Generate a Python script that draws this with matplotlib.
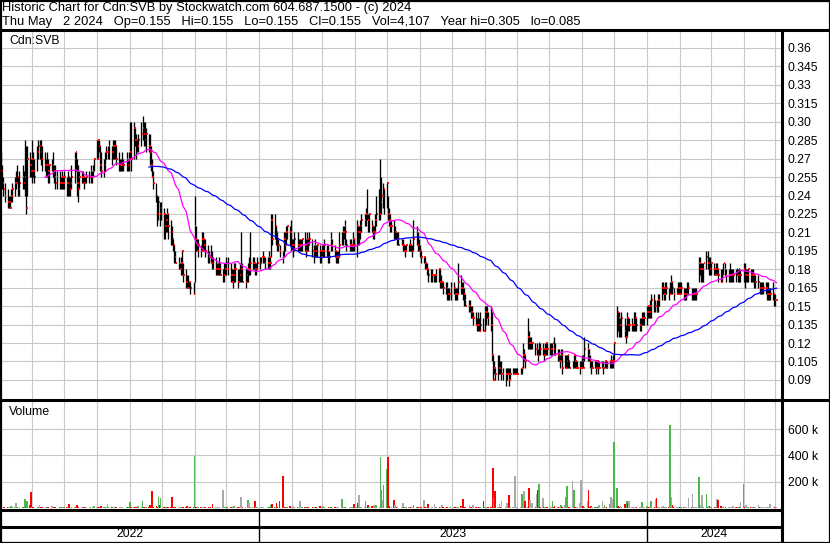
import numpy as np
import pandas as pd
import matplotlib
matplotlib.use("Agg")
import matplotlib.pyplot as plt
import matplotlib.dates as mdates

plt.rcParams['font.family'] = ['Liberation Sans', 'DejaVu Sans']

# Header texts
title_line = "Historic Chart for Cdn:SVB by Stockwatch.com 604.687.1500 - (c) 2024"
quote_line = "Thu May   2 2024   Op=0.155   Hi=0.155   Lo=0.155   Cl=0.155   Vol=4,107   Year hi=0.305   lo=0.085"
symbol = "Cdn:SVB"
first_day = "2022-05-03"

# Daily bars, prices in thousandths of a dollar, one line per month
highs = [
    275, 265, 255, 250, 245, 240, 240, 245, 250, 255, 260, 265, 255, 260, 265, 260, 285, 280, 280, 275, 270,
    285, 275, 270, 280, 285, 285, 285, 280, 275, 270, 275, 270, 265, 270, 275, 265, 265, 260, 260, 255, 260, 255,
    260, 255, 260, 255, 255, 265, 275, 275, 270, 265, 260, 260, 260, 255, 255, 260, 260, 265, 260, 265, 270,
    285, 285, 285, 280, 275, 270, 275, 280, 280, 285, 280, 285, 285, 285, 280, 275, 270, 270, 275, 270, 275, 270, 275,
    300, 300, 300, 295, 290, 285, 290, 300, 305, 300, 300, 295, 290, 290, 280, 270, 260, 250, 240, 240, 235, 235,
    230, 225, 225, 230, 225, 220, 215, 205, 200, 195, 190, 185, 190, 195, 185, 180, 175, 175, 170, 170, 170,
    240, 215, 205, 205, 200, 210, 210, 205, 205, 200, 195, 200, 195, 190, 190, 185, 185, 190, 185, 180, 185, 185,
    190, 190, 185, 180, 180, 185, 185, 180, 180, 185, 210, 185, 180, 180, 185, 190, 210, 190, 190, 185, 185, 190,
    190, 190, 195, 190, 190, 190, 195, 190, 225, 225, 225, 215, 210, 205, 200, 195, 210, 210, 215, 215, 215, 220,
    205, 205, 210, 210, 205, 205, 205, 205, 210, 205, 210, 205, 210, 205, 200, 205, 200, 200, 200, 195,
    200, 200, 205, 200, 200, 195, 210, 205, 200, 195, 195, 195, 210, 210, 215, 215, 220, 205, 205, 205, 200, 210, 205,
    220, 215, 215, 220, 225, 225, 230, 245, 225, 225, 220, 215, 215, 225, 240, 245, 270, 255, 250, 245,
    250, 240, 230, 225, 220, 220, 215, 210, 210, 210, 205, 205, 200, 200, 200, 200, 205, 200, 200, 220, 215, 210, 205,
    200, 195, 190, 190, 185, 185, 180, 180, 180, 175, 175, 180, 180, 180, 175, 170, 170, 170, 170, 165, 165, 170,
    170, 165, 165, 165, 185, 175, 170, 170, 165, 160, 155, 155, 150, 150, 145, 145, 140, 145, 140, 145, 140,
    150, 150, 150, 145, 150, 145, 110, 105, 100, 110, 110, 105, 105, 100, 100, 100, 100, 100, 100, 100, 100, 100, 100,
    100, 100, 100, 120, 115, 110, 140, 130, 125, 125, 120, 120, 120, 115, 120, 120, 120, 115, 120, 120, 120,
    120, 120, 120, 125, 120, 115, 115, 110, 115, 115, 110, 110, 110, 110, 105, 105, 110, 110, 105, 105, 105, 105,
    110, 110, 125, 120, 115, 110, 105, 105, 105, 105, 105, 105, 105, 105, 105, 105, 105, 105, 105, 110, 105, 110,
    120, 150, 145, 145, 140, 145, 140, 135, 145, 140, 140, 140, 135, 145, 145, 140, 140, 140, 145, 145, 145,
    150, 150, 150, 155, 160, 160, 155, 155, 160, 160, 170, 170, 165, 170, 170, 165, 170, 175, 170, 165, 165, 170, 170,
    170, 170, 165, 165, 165, 170, 170, 165, 165, 165, 165, 165, 190, 190, 185, 185, 185, 195, 195, 190, 190,
    185, 185, 180, 185, 185, 180, 180, 180, 185, 185, 180, 180, 185, 180, 180, 180, 180, 180, 180, 180, 180,
    185, 185, 180, 180, 180, 180, 180, 180, 175, 175, 175, 170, 170, 170, 170, 170, 170, 170, 165, 165, 170, 160,
    160, 155,
]
lows = [
    250, 245, 240, 235, 230, 230, 230, 235, 235, 240, 245, 250, 240, 240, 245, 245, 240, 225, 240, 255, 255,
    250, 255, 250, 260, 270, 270, 265, 260, 260, 255, 255, 250, 250, 260, 255, 250, 245, 245, 245, 245, 245, 245,
    245, 240, 240, 240, 240, 245, 250, 260, 240, 235, 245, 250, 250, 245, 250, 250, 250, 250, 250, 255, 260,
    270, 270, 275, 260, 255, 255, 260, 270, 270, 270, 265, 270, 270, 270, 265, 260, 260, 260, 260, 260, 260, 260, 260,
    270, 260, 270, 280, 270, 275, 275, 280, 285, 280, 280, 275, 275, 265, 260, 255, 245, 235, 215, 220, 215, 220,
    205, 205, 210, 210, 205, 200, 200, 195, 185, 185, 180, 180, 175, 175, 170, 165, 165, 165, 165, 160, 160,
    170, 195, 195, 190, 190, 195, 195, 195, 190, 185, 185, 185, 180, 180, 175, 175, 175, 175, 175, 170, 170, 175,
    175, 175, 170, 170, 165, 170, 170, 165, 170, 170, 170, 170, 165, 170, 170, 175, 175, 180, 180, 175, 175, 180,
    180, 185, 185, 185, 180, 180, 180, 180, 190, 200, 205, 200, 195, 195, 190, 185, 190, 195, 200, 205, 200, 195,
    195, 190, 195, 195, 195, 195, 195, 195, 195, 190, 195, 195, 200, 190, 185, 190, 190, 190, 185, 185,
    190, 190, 190, 190, 185, 185, 195, 195, 190, 185, 185, 185, 190, 200, 200, 205, 200, 195, 195, 195, 195, 195, 195,
    190, 200, 200, 205, 210, 215, 215, 220, 210, 210, 210, 205, 205, 210, 215, 220, 220, 225, 230, 225,
    230, 220, 215, 210, 210, 205, 205, 205, 200, 200, 200, 195, 195, 190, 195, 195, 195, 195, 190, 195, 200, 195, 195,
    190, 185, 185, 180, 180, 175, 170, 170, 170, 170, 170, 170, 170, 165, 165, 165, 160, 160, 155, 155, 155, 155,
    160, 155, 155, 155, 160, 160, 160, 155, 150, 150, 145, 145, 140, 140, 135, 135, 130, 130, 130, 130, 130,
    130, 135, 140, 135, 130, 105, 90, 95, 90, 90, 95, 95, 90, 90, 85, 90, 95, 85, 90, 95, 95, 95, 95,
    95, 95, 95, 100, 105, 100, 115, 115, 115, 115, 115, 110, 110, 105, 110, 110, 110, 105, 110, 110, 110,
    110, 110, 110, 110, 110, 105, 105, 100, 105, 95, 100, 100, 100, 100, 100, 100, 100, 100, 100, 100, 95, 100,
    100, 100, 105, 105, 105, 100, 95, 100, 100, 95, 100, 95, 100, 100, 95, 100, 100, 100, 100, 100, 100, 100,
    105, 125, 130, 125, 125, 125, 125, 120, 125, 130, 130, 130, 130, 130, 130, 130, 130, 130, 135, 135, 135,
    135, 140, 140, 140, 140, 145, 145, 145, 145, 150, 155, 160, 155, 155, 160, 155, 160, 160, 160, 155, 160, 160, 160,
    160, 160, 155, 155, 155, 160, 160, 155, 155, 155, 155, 155, 170, 175, 170, 170, 170, 180, 180, 175, 175,
    175, 175, 175, 175, 175, 170, 170, 170, 175, 175, 170, 170, 170, 170, 170, 170, 170, 175, 170, 170, 170,
    170, 165, 170, 170, 170, 170, 170, 170, 165, 165, 165, 160, 160, 160, 160, 160, 155, 155, 155, 155, 155, 150,
    150, 155,
]
closes = [
    260, 250, 245, 240, 235, 235, 230, 240, 245, 250, 250, 255, 245, 250, 255, 250, 255, 230, 270, 265, 260,
    270, 260, 255, 275, 280, 280, 275, 270, 265, 265, 265, 260, 265, 265, 260, 255, 250, 255, 250, 250, 255, 250,
    255, 250, 255, 245, 250, 255, 270, 275, 250, 245, 255, 255, 255, 250, 255, 255, 255, 260, 255, 260, 270,
    270, 285, 280, 265, 260, 265, 275, 275, 275, 280, 275, 280, 280, 280, 270, 265, 265, 265, 265, 265, 270, 265, 270,
    275, 270, 295, 285, 285, 280, 285, 290, 295, 290, 285, 290, 280, 275, 265, 255, 250, 240, 225, 235, 225, 230,
    225, 215, 220, 225, 215, 210, 205, 200, 190, 185, 185, 180, 185, 195, 175, 170, 165, 170, 170, 165, 160,
    215, 205, 195, 200, 195, 205, 205, 200, 195, 190, 190, 185, 185, 180, 180, 180, 180, 180, 175, 175, 180, 180,
    185, 180, 175, 170, 175, 180, 180, 170, 175, 180, 180, 170, 170, 175, 180, 180, 185, 185, 185, 180, 180, 185,
    185, 190, 190, 190, 185, 185, 190, 185, 220, 205, 215, 210, 200, 200, 195, 190, 205, 200, 210, 215, 210, 200,
    200, 200, 205, 200, 200, 200, 200, 205, 200, 195, 205, 200, 205, 195, 195, 200, 195, 200, 195, 190,
    195, 195, 200, 195, 190, 190, 205, 200, 195, 190, 190, 190, 200, 210, 210, 215, 210, 200, 200, 200, 200, 205, 200,
    215, 210, 210, 215, 220, 220, 225, 225, 220, 225, 215, 210, 210, 220, 225, 225, 235, 240, 240, 245,
    250, 225, 220, 215, 215, 210, 210, 205, 205, 200, 200, 200, 195, 195, 200, 200, 200, 195, 195, 205, 210, 200, 195,
    195, 190, 190, 185, 180, 180, 175, 175, 175, 175, 175, 175, 180, 170, 170, 170, 165, 165, 160, 160, 160, 165,
    165, 160, 160, 160, 170, 165, 165, 160, 155, 150, 150, 150, 145, 140, 140, 135, 135, 135, 130, 135, 130,
    145, 145, 145, 140, 135, 110, 90, 100, 95, 100, 100, 95, 95, 95, 95, 95, 95, 90, 95, 95, 95, 95, 95,
    95, 95, 100, 110, 110, 105, 125, 120, 120, 120, 120, 115, 115, 110, 120, 115, 115, 110, 115, 120, 115,
    115, 115, 120, 115, 110, 110, 105, 105, 110, 100, 100, 105, 110, 105, 100, 100, 110, 105, 100, 100, 100, 100,
    105, 100, 115, 115, 110, 105, 100, 100, 105, 100, 105, 100, 100, 100, 100, 105, 105, 100, 105, 105, 105, 105,
    120, 145, 140, 135, 135, 140, 130, 125, 140, 135, 135, 135, 135, 140, 140, 135, 135, 135, 140, 140, 140,
    145, 150, 145, 150, 155, 150, 150, 145, 155, 155, 165, 165, 160, 165, 165, 160, 170, 170, 165, 160, 160, 165, 165,
    160, 165, 160, 160, 160, 165, 165, 160, 160, 160, 160, 160, 185, 180, 180, 180, 185, 190, 185, 185, 180,
    185, 180, 175, 180, 180, 175, 170, 175, 185, 180, 175, 175, 175, 175, 175, 175, 180, 175, 180, 175, 175,
    180, 175, 175, 175, 180, 175, 175, 175, 170, 170, 170, 165, 165, 165, 165, 165, 160, 160, 160, 160, 160, 155,
    155, 155,
]
# Daily volume in thousands of shares
volumes = [
    15, 3, 4, 6, 10, 5, 3, 15, 4, 6, 40, 8, 3, 5, 4, 6, 70, 10, 55, 20, 125,
    4, 5, 3, 6, 8, 23, 4, 8, 3, 5, 4, 6, 3, 15, 4, 5, 5, 3, 6, 4, 5, 3,
    4, 8, 5, 30, 3, 4, 6, 5, 23, 4, 3, 8, 5, 4, 3, 5, 4, 6, 3, 8, 15,
    4, 6, 8, 3, 15, 4, 5, 6, 30, 4, 5, 10, 3, 4, 6, 3, 5, 4, 8, 3, 6, 4, 5,
    46, 4, 5, 6, 3, 8, 12, 5, 50, 4, 10, 6, 5, 23, 8, 130, 10, 12, 6, 87, 20, 75,
    5, 4, 3, 6, 10, 5, 80, 6, 4, 8, 5, 3, 6, 8, 4, 5, 15, 3, 4, 6, 5,
    395, 8, 6, 10, 5, 10, 4, 3, 6, 5, 10, 4, 3, 30, 5, 4, 6, 6, 3, 140, 5, 4,
    5, 8, 4, 3, 10, 12, 4, 5, 3, 6, 80, 4, 5, 3, 60, 40, 6, 4, 5, 50, 4, 6,
    6, 4, 5, 8, 3, 4, 5, 6, 20, 30, 5, 40, 4, 3, 55, 240, 5, 4, 3, 6, 12, 4,
    4, 12, 5, 10, 3, 50, 4, 5, 6, 3, 4, 5, 3, 4, 6, 5, 4, 3, 12, 5,
    4, 15, 5, 3, 6, 10, 4, 5, 10, 3, 4, 6, 3, 67, 5, 4, 6, 3, 5, 4, 6, 5, 30,
    5, 40, 100, 4, 5, 6, 55, 4, 23, 5, 18, 4, 23, 6, 23, 8, 390, 140, 60, 175,
    300, 390, 15, 8, 5, 60, 23, 4, 5, 3, 5, 35, 4, 6, 5, 8, 4, 10, 5, 23, 4, 10, 5,
    10, 4, 60, 5, 3, 6, 30, 4, 5, 3, 30, 4, 3, 5, 4, 23, 5, 4, 6, 3, 6, 10,
    4, 5, 3, 6, 4, 12, 5, 65, 4, 10, 3, 23, 5, 4, 23, 6, 3, 5, 4, 6, 55,
    5, 4, 5, 6, 4, 8, 305, 80, 130, 5, 30, 4, 55, 3, 8, 35, 5, 100, 10, 4, 6, 240, 5,
    12, 5, 110, 4, 130, 50, 8, 150, 60, 6, 40, 5, 110, 135, 185, 6, 75, 5, 6, 4, 5,
    5, 4, 50, 6, 12, 4, 6, 5, 25, 4, 25, 80, 165, 5, 5, 205, 135, 4, 3, 6, 35, 210,
    5, 15, 4, 50, 135, 5, 15, 4, 6, 10, 4, 5, 25, 55, 4, 25, 5, 10, 30, 80, 40, 65,
    500, 155, 15, 10, 12, 4, 30, 5, 55, 35, 55, 10, 4, 3, 5, 4, 6, 10, 45, 10, 5,
    15, 5, 4, 6, 50, 4, 70, 75, 5, 10, 4, 15, 3, 5, 4, 6, 635, 85, 25, 4, 10, 10, 5,
    5, 4, 6, 4, 5, 3, 75, 4, 110, 10, 5, 6, 235, 4, 20, 100, 5, 110, 4, 12, 15,
    5, 3, 4, 6, 65, 60, 15, 4, 5, 3, 6, 4, 8, 5, 4, 12, 5, 8, 8, 4, 45,
    180, 8, 20, 4, 8, 5, 8, 4, 8, 5, 25, 4, 5, 5, 4, 8, 3, 5, 4, 30, 4, 5,
    15, 4,
]

price_ticks = [0.09, 0.105, 0.12, 0.135, 0.15, 0.165, 0.18, 0.195, 0.21, 0.225,
               0.24, 0.255, 0.27, 0.285, 0.30, 0.315, 0.33, 0.345, 0.36]
price_labels = ["0.09", "0.105", "0.12", "0.135", "0.15", "0.165", "0.18", "0.195", "0.21", "0.225",
                "0.24", "0.255", "0.27", "0.285", "0.30", "0.315", "0.33", "0.345", "0.36"]
vol_ticks = [200, 400, 600]
vol_labels = ["200 k", "400 k", "600 k"]
years = ["2022", "2023", "2024"]

n = min(len(highs), len(lows), len(closes), len(volumes))
dates = pd.bdate_range(first_day, periods=n)
df = pd.DataFrame({
    "high": np.array(highs[:n]) / 1000.0,
    "low": np.array(lows[:n]) / 1000.0,
    "close": np.array(closes[:n]) / 1000.0,
    "vol": np.array(volumes[:n]),
}, index=dates)
df["ma_short"] = df["close"].rolling(30).mean()
df["ma_long"] = df["close"].rolling(100).mean()
chg = df["close"].diff().fillna(0).values
vol_colors = np.where(chg > 0, "#4cb84c", np.where(chg < 0, "#ff0000", "#a9a9a9"))

W, H = 830, 543
fig = plt.figure(figsize=(W / 100, H / 100), dpi=100)


def px_axes(x0, y0, x1, y1, **kw):
    return fig.add_axes([x0 / W, 1 - y1 / H, (x1 - x0) / W, (y1 - y0) / H], **kw)


grid_color = "#c8c8c8"
label_size = 8.8
d0 = mdates.date2num(pd.Timestamp(first_day))
xlim = (d0 - 0.3, d0 + 734.2)
dnum = mdates.date2num(df.index.to_pydatetime())

ax = px_axes(1, 31, 781, 399)
axv = px_axes(1, 401, 781, 509)
axd = px_axes(1, 510, 781, 542)

for a in (ax, axv, axd):
    a.set_xlim(*xlim)
    for s in a.spines.values():
        s.set_visible(False)
    a.xaxis.set_major_locator(mdates.MonthLocator())
    a.tick_params(axis="x", length=0, labelbottom=False)

# price panel
ax.set_ylim(0.0745, 0.3738)
ax.grid(True, color=grid_color, lw=0.8)
ax.set_axisbelow(True)
ax.vlines(dnum, df["low"], df["high"], color="black", lw=0.95)
ax.hlines(df["close"], dnum + 0.3, dnum + 1.7, color="red", lw=1.3)
ax.plot(dnum, df["ma_short"], color="#ff00ff", lw=0.9)
ax.plot(dnum, df["ma_long"], color="#0000ff", lw=0.9)
ax.yaxis.tick_right()
ax.set_yticks(price_ticks, price_labels)
ax.tick_params(axis="y", length=0, pad=5, labelsize=label_size)
ax.text(8 / 780, 1 - 4 / 368, symbol, transform=ax.transAxes, ha="left", va="top", fontsize=label_size)

# volume panel
axv.set_ylim(-8, 815)
axv.grid(True, color=grid_color, lw=0.8)
axv.set_axisbelow(True)
axv.bar(dnum, df["vol"], width=1.6, color=vol_colors, linewidth=0)
axv.yaxis.tick_right()
axv.set_yticks(vol_ticks, vol_labels)
axv.tick_params(axis="y", length=0, pad=5, labelsize=label_size)
axv.text(8 / 780, 1 - 5 / 108, "Volume", transform=axv.transAxes, ha="left", va="top", fontsize=label_size)

# date strip
axd.set_ylim(0, 1)
axd.set_yticks([])
axd.set_xticks([])
year_starts = [pd.Timestamp(y + "-01-01") for y in years[1:]]
edges = [xlim[0]] + [mdates.date2num(t) for t in year_starts] + [xlim[1]]
for e in edges[1:-1]:
    axd.axvline(e, color="black", lw=1)
for i, y in enumerate(years):
    axd.text((edges[i] + edges[i + 1]) / 2, 0.25, y, ha="center", va="center", fontsize=label_size)

# frame lines in pixel coordinates
ov = fig.add_axes([0, 0, 1, 1], zorder=10)
ov.set_xlim(0, W)
ov.set_ylim(H, 0)
ov.axis("off")
ov.patch.set_alpha(0)
thick = 2.2
ov.plot([0.5, W - 0.5, W - 0.5, 0.5, 0.5], [0.5, 0.5, H - 0.5, H - 0.5, 0.5], color="black", lw=1.6)
ov.plot([0, W], [29.5, 29.5], color="black", lw=thick, solid_capstyle="butt")
ov.plot([0, W], [400, 400], color="black", lw=thick, solid_capstyle="butt")
ov.plot([0, 782], [510, 510], color="black", lw=thick, solid_capstyle="butt")
ov.plot([0, 782], [526.5, 526.5], color="black", lw=thick, solid_capstyle="butt")
ov.plot([782, 782], [29.5, H], color="black", lw=thick, solid_capstyle="butt")

# header, placed by baseline
ov.text(2, 11, title_line, ha="left", va="baseline", fontsize=9.3)
ov.text(2, 25, quote_line, ha="left", va="baseline", fontsize=9.3)

fig.savefig("out.png", dpi=100)
